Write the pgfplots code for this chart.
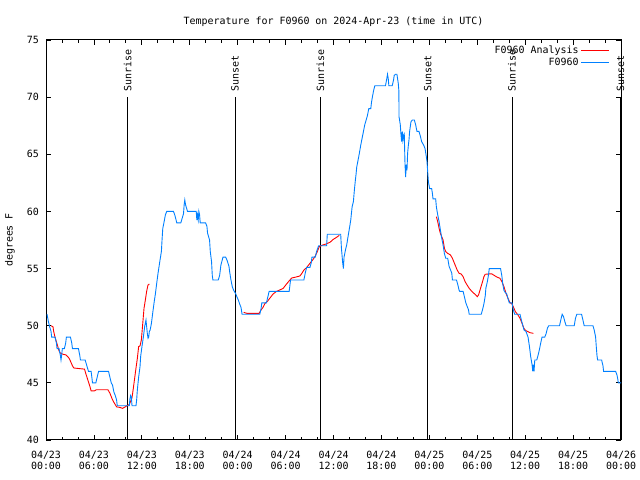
\documentclass[border=0pt]{standalone}
\usepackage{pgfplots}
\pgfplotsset{compat=1.18}
\usepackage{fontspec}
\setmainfont{DejaVu Sans Mono}
\definecolor{obsblue}{RGB}{0,128,255}
\newcommand{\gfont}{\fontsize{10}{11}\selectfont}
\begin{document}
\begin{tikzpicture}[x=1bp,y=1bp]
\useasboundingbox (0,0) rectangle (640,480);
\begin{axis}[
  at={(46bp,40bp)}, anchor=south west,
  scale only axis, width=575bp, height=400bp,
  xmin=0, xmax=72, ymin=40, ymax=75,
  clip=false,
  xtick={0,6,...,72},
  xticklabels={04/23\\00:00,04/23\\06:00,04/23\\12:00,04/23\\18:00,04/24\\00:00,04/24\\06:00,04/24\\12:00,04/24\\18:00,04/25\\00:00,04/25\\06:00,04/25\\12:00,04/25\\18:00,04/26\\00:00},
  minor x tick num=2,
  ytick={40,45,...,75},
  tick align=inside,
  major tick length=5bp, minor tick length=3bp,
  tick style={black, line width=0.8bp},
  axis line style={black, line width=1bp},
  xticklabel style={font=\gfont, align=center, inner sep=0pt, yshift=-10.5bp},
  yticklabel style={font=\gfont, inner sep=0pt, xshift=-7bp},
  /pgf/number format/assume math mode=true,
  unbounded coords=jump,
  legend plot pos=right,
  legend cell align=right,
  legend style={draw=none, fill=none, at={(1,1)}, anchor=north east, xshift=-10bp, yshift=-3bp, font=\gfont, row sep=-1.5bp, inner sep=1bp},
  legend image code/.code={\draw[#1] (0cm,0cm) -- (1cm,0cm);},
]
% day/night markers
\addplot[black, line width=0.8bp, forget plot] coordinates {(10.23,40) (10.23,70)};
\addplot[black, line width=0.8bp, forget plot] coordinates {(23.67,40) (23.67,70)};
\addplot[black, line width=0.8bp, forget plot] coordinates {(34.35,40) (34.35,70)};
\addplot[black, line width=0.8bp, forget plot] coordinates {(47.79,40) (47.79,70)};
\addplot[black, line width=0.8bp, forget plot] coordinates {(58.35,40) (58.35,70)};
\addplot[black, line width=0.8bp, forget plot] coordinates {(71.92,40) (71.92,70)};

% F0960 Analysis
\addplot[red, line width=0.9bp] coordinates {
(0.63,50.0) (0.88,49.9) (0.96,49.5) (1.13,49.0) (1.30,48.6) (1.47,48.2) (1.63,47.8) (1.80,47.6)
(2.14,47.5) (2.47,47.45) (2.72,47.3) (2.89,47.15) (3.06,46.9) (3.31,46.5) (3.48,46.3) (4.15,46.25)
(4.82,46.2) (4.99,45.8) (5.24,45.25) (5.49,44.7) (5.65,44.3) (6.07,44.3) (6.32,44.4) (7.75,44.4)
(8.00,44.1) (8.25,43.65) (8.50,43.3) (8.84,42.9) (9.26,42.85) (9.59,42.77) (9.84,42.86) (10.09,42.98)
(10.43,43.1) (10.77,43.7) (10.93,44.5) (11.10,45.4) (11.27,46.3) (11.44,47.15) (11.60,48.17) (11.77,48.23)
(11.94,48.75) (12.10,50.06) (12.27,51.5) (12.44,52.25) (12.60,53.0) (12.77,53.56) (12.94,53.65)
(18,nan)
(24.75,51.17) (25.17,51.08) (26.68,51.08) (26.93,51.38) (27.18,51.61) (27.43,51.96) (27.69,52.1)
(28.02,52.4) (28.44,52.78) (28.86,53.0) (29.28,53.13) (29.70,53.27) (30.12,53.65) (30.54,54.0)
(30.79,54.18) (31.20,54.24) (31.79,54.35) (32.04,54.58) (32.29,54.87) (32.63,55.08) (33.05,55.46)
(33.39,55.75) (33.72,56.1) (33.97,56.48) (34.22,56.92) (34.64,57.06) (35.06,57.15) (35.56,57.3)
(35.98,57.56) (36.40,57.74) (36.73,57.91)
(42,nan)
(48.88,59.54) (49.05,59.1) (49.22,58.52) (49.38,58.08) (49.55,57.79) (49.72,57.5) (49.89,56.77)
(50.05,56.48) (50.30,56.33) (50.64,56.19) (50.89,55.9) (51.06,55.6) (51.23,55.31) (51.48,54.88)
(51.73,54.58) (51.98,54.53) (52.23,54.29) (52.48,53.85) (52.73,53.56) (52.99,53.27) (53.24,53.07)
(53.49,52.89) (53.82,52.69) (54.00,52.54) (54.16,52.69) (54.41,53.27) (54.66,53.85) (54.83,54.29)
(55.00,54.5) (55.50,54.53) (55.83,54.53) (56.17,54.38) (56.51,54.24) (56.84,54.15) (57.09,53.85)
(57.34,53.42) (57.60,52.83) (57.84,52.4) (58.10,52.02) (58.35,51.9) (58.60,51.52) (58.77,51.23)
(59.10,50.94) (59.35,50.65) (59.61,50.2) (59.85,49.75) (60.10,49.56) (60.36,49.48) (60.61,49.39)
(61.03,49.33)
};
\addlegendentry{F0960 Analysis}

% F0960
\addplot[obsblue, line width=0.9bp] coordinates {
(0.13,51.0) (0.29,50.4) (0.46,49.9) (0.63,49.5) (0.71,49.0) (1.13,49.0) (1.30,48.5) (1.38,48.0)
(1.63,48.0) (1.80,47.4) (1.88,47.0) (1.97,47.5) (2.05,48.0) (2.30,48.0) (2.47,48.5) (2.55,49.0)
(3.06,49.0) (3.22,48.5) (3.31,48.0) (4.06,48.0) (4.23,47.4) (4.31,47.0) (4.90,47.0) (5.07,46.6)
(5.32,46.0) (5.65,46.0) (5.74,45.5) (5.82,45.0) (6.24,45.0) (6.41,45.5) (6.58,46.0) (7.83,46.0)
(8.00,45.5) (8.17,45.0) (8.33,44.8) (8.50,44.2) (8.67,43.9) (8.84,43.5) (8.92,43.0) (10.43,43.0)
(10.51,43.6) (10.60,43.9) (10.68,43.8) (10.77,43.0) (11.27,43.0) (11.35,43.5) (11.44,44.4) (11.60,45.5)
(11.77,46.4) (11.85,47.3) (12.02,48.2) (12.19,49.0) (12.35,49.9) (12.52,50.5) (12.69,49.3) (12.78,48.9)
(12.86,49.0) (12.94,49.5) (13.03,49.6) (13.20,50.2) (13.36,51.1) (13.53,52.0) (13.70,52.8) (13.86,53.7)
(14.03,54.6) (14.28,55.75) (14.45,56.5) (14.53,57.5) (14.62,58.5) (14.79,59.1) (14.95,59.7) (15.12,60.0)
(15.96,60.0) (16.12,59.7) (16.29,59.25) (16.37,59.0) (16.88,59.0) (17.05,59.4) (17.22,59.8) (17.30,60.6)
(17.38,61.0) (17.47,60.6) (17.55,60.4) (17.72,60.0) (18.81,60.0) (18.89,59.25) (18.97,59.7) (19.06,59.25)
(19.14,60.0) (19.23,59.7) (19.31,59.0) (19.98,59.0) (20.15,58.7) (20.23,58.1) (20.48,57.5) (20.57,56.5)
(20.73,55.6) (20.82,54.4) (20.90,54.0) (21.57,54.0) (21.74,54.4) (21.90,55.3) (22.16,56.0) (22.49,56.0)
(22.66,55.75) (22.91,55.2) (23.00,54.7) (23.16,54.0) (23.33,53.4) (23.50,53.1) (23.75,52.8) (23.92,52.5)
(24.08,52.25) (24.25,51.9) (24.42,51.6) (24.55,51.0) (26.77,51.0) (26.93,51.5) (27.02,52.0) (27.60,52.0)
(27.77,52.5) (27.94,53.0) (30.45,53.0) (30.62,54.0) (32.29,54.0) (32.46,54.6) (32.63,55.1) (33.05,55.1)
(33.21,55.5) (33.30,56.0) (33.72,56.0) (33.88,56.5) (34.14,57.0) (35.14,57.0) (35.22,58.0) (36.90,58.0)
(36.99,56.8) (37.15,55.5) (37.24,55.0) (37.32,56.0) (37.49,56.6) (37.66,57.1) (37.82,57.8) (37.99,58.5)
(38.16,59.25) (38.24,59.8) (38.33,60.4) (38.49,60.85) (38.58,61.6) (38.66,62.2) (38.74,62.75) (38.83,63.3)
(38.91,63.9) (39.08,64.5) (39.24,65.1) (39.41,65.8) (39.58,66.4) (39.75,67.0) (39.92,67.6) (40.09,68.0)
(40.25,68.4) (40.42,69.0) (40.67,69.0) (40.75,69.5) (40.84,69.9) (41.00,70.5) (41.17,71.0) (42.51,71.0)
(42.68,71.65) (42.76,72.0) (42.85,71.65) (42.93,71.0) (43.35,71.0) (43.52,71.5) (43.60,71.9) (43.77,72.0)
(43.94,72.0) (44.11,71.2) (44.19,70.5) (44.20,68.3) (44.36,67.6) (44.44,66.8) (44.53,66.1) (44.61,67.0)
(44.69,66.25) (44.78,66.7) (44.86,66.8) (44.95,64.2) (45.03,63.0) (45.11,64.1) (45.20,63.6) (45.28,65.1)
(45.36,65.7) (45.45,66.25) (45.53,67.0) (45.70,67.85) (45.87,68.0) (46.12,68.0) (46.28,67.6) (46.45,67.0)
(46.70,67.0) (46.87,66.6) (47.04,66.1) (47.29,65.8) (47.46,65.5) (47.62,64.8) (47.71,64.35) (47.79,63.5)
(47.88,62.6) (48.04,62.0) (48.29,62.0) (48.38,61.6) (48.46,61.1) (48.79,61.1) (48.88,60.4) (49.05,59.7)
(49.22,59.1) (49.38,58.4) (49.55,57.65) (49.72,57.06) (49.89,56.3) (50.05,55.9) (50.30,55.9) (50.47,55.2)
(50.64,54.9) (50.81,54.6) (50.89,54.0) (51.40,54.0) (51.56,53.6) (51.73,53.1) (51.81,53.0) (52.23,53.0)
(52.40,52.5) (52.57,52.0) (52.73,51.7) (52.90,51.4) (52.99,51.0) (54.50,51.0) (54.66,51.4) (54.83,51.9)
(55.00,52.6) (55.08,53.3) (55.25,53.8) (55.42,54.5) (55.50,55.0) (56.92,55.0) (57.09,54.3) (57.18,53.7)
(57.34,53.1) (57.51,52.9) (57.68,52.8) (57.84,52.4) (58.01,52.0) (58.35,52.0) (58.51,51.4) (58.68,51.0)
(59.35,51.0) (59.52,50.5) (59.69,50.06) (59.85,49.63) (60.10,49.5) (60.36,49.0) (60.53,48.2) (60.69,47.3)
(60.86,46.6) (60.95,46.0) (61.03,46.6) (61.11,46.0) (61.20,47.0) (61.45,47.0) (61.61,47.4) (61.78,47.9)
(61.95,48.5) (62.11,49.0) (62.45,49.0) (62.62,49.3) (62.79,49.8) (62.95,50.0) (64.30,50.0) (64.46,50.5)
(64.63,51.0) (64.80,50.8) (64.97,50.35) (65.13,50.0) (66.14,50.0) (66.30,50.65) (66.47,51.0) (67.06,51.0)
(67.23,50.5) (67.39,50.0) (68.49,50.0) (68.65,49.6) (68.82,49.0) (68.90,48.2) (68.99,47.4) (69.07,47.0)
(69.57,47.0) (69.74,46.5) (69.82,46.0) (71.33,46.0) (71.49,45.7) (71.58,45.4) (71.66,45.0) (72.0,45.0)
};
\addlegendentry{F0960}

\node[rotate=90, anchor=west, inner sep=0pt, font=\gfont] at (axis cs:10.23,70.45) {Sunrise};
\node[rotate=90, anchor=west, inner sep=0pt, font=\gfont] at (axis cs:23.67,70.45) {Sunset};
\node[rotate=90, anchor=west, inner sep=0pt, font=\gfont] at (axis cs:34.35,70.45) {Sunrise};
\node[rotate=90, anchor=west, inner sep=0pt, font=\gfont] at (axis cs:47.79,70.45) {Sunset};
\node[rotate=90, anchor=west, inner sep=0pt, font=\gfont] at (axis cs:58.35,70.45) {Sunrise};
\node[rotate=90, anchor=west, inner sep=0pt, font=\gfont] at (axis cs:71.92,70.45) {Sunset};
\end{axis}
\node[anchor=base, inner sep=0pt, font=\gfont] at (333.5,455) {Temperature for F0960 on 2024-Apr-23 (time in UTC)};
\node[rotate=90, anchor=center, inner sep=0pt, font=\gfont] at (10,240) {degrees F};
\end{tikzpicture}
\end{document}
